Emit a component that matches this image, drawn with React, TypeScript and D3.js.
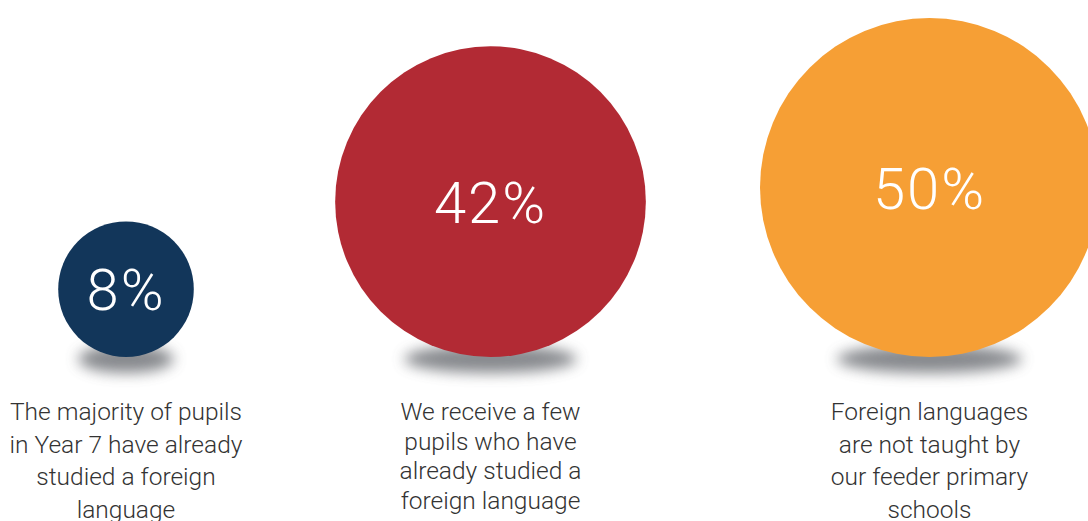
import React from "react";
import * as d3 from "d3";

const categories = ["a", "b", "c"];
const values = [8, 42, 50];
const labels = ["8%", "42%", "50%"];
const colors = ["#12365a", "#b22a34", "#f69f35"];
const captions = [
  ["The majority of pupils", "in Year 7 have already", "studied a foreign", "language"],
  ["We receive a few", "pupils who have", "already studied a", "foreign language"],
  ["Foreign languages", "are not taught by", "our feeder primary", "schools"],
];

const W = 1088;
const H = 521;

export default function App() {
  const xs = d3.scaleOrdinal<string, number>().domain(categories).range([126, 490.5, 929.5]);
  const r = d3.scaleSqrt().domain([0, 50]).range([0, 169.5]);
  const baseY = 357;
  const lineH = [32.5, 29.5, 32.5];

  return (
    <svg
      width={W}
      height={H}
      style={{ position: "absolute", left: 0, top: 0, background: "#fff" }}
    >
      <defs>
        <filter id="blur" x="-50%" y="-100%" width="200%" height="300%">
          <feGaussianBlur stdDeviation="7" />
        </filter>
      </defs>
      {categories.map((c, i) => {
        const cx = xs(c);
        const rr = r(values[i]);
        const cy = baseY - rr;
        return (
          <g key={c}>
            <ellipse
              cx={cx}
              cy={baseY + 2}
              rx={rr * 0.44 + 18}
              ry={14}
              fill="#5f6268"
              opacity={0.75}
              filter="url(#blur)"
            />
            <circle cx={cx} cy={cy} r={rr} fill={colors[i]} />
            <text
              x={cx}
              y={cy + 21}
              textAnchor="middle"
              fill="#fff"
              fontFamily="Roboto, Lato, sans-serif"
              fontWeight={300}
              fontSize={58}
              letterSpacing={2}
            >
              {labels[i]}
            </text>
            <text
              textAnchor="middle"
              fill="#333"
              fontFamily="Roboto, 'Liberation Sans', sans-serif"
              fontWeight={300}
              fontSize={24.5}
            >
              {captions[i].map((line, j) => (
                <tspan key={j} x={cx} y={420 + j * lineH[i]}>
                  {line}
                </tspan>
              ))}
            </text>
          </g>
        );
      })}
    </svg>
  );
}
